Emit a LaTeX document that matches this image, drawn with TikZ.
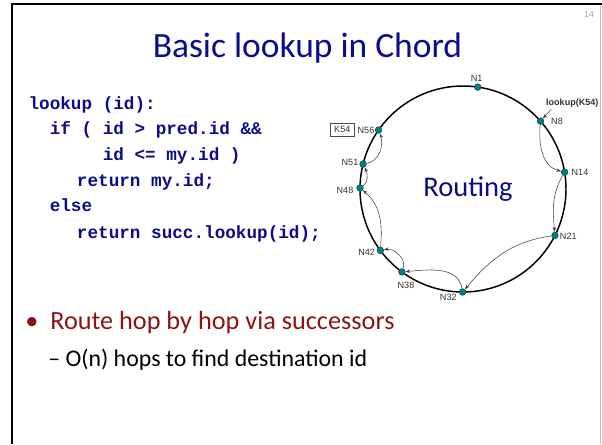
\documentclass[tikz,border=0pt]{standalone}
\usepackage{fontspec}
\setmainfont{Carlito}
\newfontfamily\codefont{Liberation Mono}
\newfontfamily\labelfont{Liberation Sans}
\usetikzlibrary{arrows.meta}

\definecolor{slideblue}{RGB}{12,12,140}
\definecolor{bulletred}{RGB}{142,20,20}
\definecolor{ringteal}{RGB}{0,128,128}

\begin{document}
\begin{tikzpicture}[x=0.75pt,y=-0.75pt,
  codeline/.style={anchor=base west, inner sep=0,
    font=\codefont\bfseries\fontsize{13.25}{15}\selectfont, text=slideblue},
  peer/.style={circle, fill=ringteal, draw=ringteal!65!black, line width=0.4pt,
    inner sep=0, minimum size=5pt},
  peerlabel/.style={inner sep=0, font=\labelfont\fontsize{6.8}{8}\selectfont, text=black!80},
  hop/.style={-{Stealth[length=3.6pt,width=2.6pt]}, line width=0.4pt, draw=black!75},
]
\useasboundingbox (0,0) rectangle (602,444);
\fill[white] (0,0) rectangle (602,444);

% slide frame
\draw[line width=1.8pt] (12,444) -- (12,3.8) -- (602,3.8);
\draw[black!25, line width=0.5pt] (600,4.5) -- (600,444);
\node[inner sep=0, font=\labelfont\fontsize{6.5}{8}\selectfont, text=black!35] (pagenum) at (589,15) {14};

% title
\node[anchor=base, inner sep=0, font=\fontsize{26.6}{32}\selectfont, text=slideblue] (title) at (307.5,57.3) {Basic lookup in Chord};

% pseudo-code
\node[codeline] (c1) at (28.3,109.3) {lookup (id):};
\node[codeline] (c2) at (49.5,134.3) {if ( id > pred.id \&\&};
\node[codeline] (c3) at (102.5,160) {id <= my.id )};
\node[codeline] (c4) at (76.7,186) {return my.id;};
\node[codeline] (c5) at (49.5,211.7) {else};
\node[codeline] (c6) at (76.7,238.3) {return succ.lookup(id);};

% the identifier ring
\draw[line width=1.1pt] (463,189) circle[radius=77.25pt];
\begin{scope}[shift={(463,189)}]
  \node[peer] (n1)  at (81.8:77.25pt) {};
  \node[peer] (n8)  at (41.2:77.25pt) {};
  \node[peer] (n14) at (9.4:77.25pt) {};
  \node[peer] (n21) at (-26.8:77.25pt) {};
  \node[peer] (n32) at (-90.2:77.25pt) {};
  \node[peer] (n38) at (-126.4:77.25pt) {};
  \node[peer] (n42) at (-143.4:77.25pt) {};
  \node[peer] (n48) at (179.4:77.25pt) {};
  \node[peer] (n51) at (166:77.25pt) {};
  \node[peer] (n56) at (145.1:77.25pt) {};
\end{scope}

\node[peerlabel] (l1)  at (476.7,78.3) {N1};
\node[peerlabel] (l8)  at (557,121.7) {N8};
\node[peerlabel] (l14) at (580,172.3) {N14};
\node[peerlabel] (l21) at (568.3,236.7) {N21};
\node[peerlabel] (l32) at (448.3,297.3) {N32};
\node[peerlabel] (l38) at (406,285.3) {N38};
\node[peerlabel] (l42) at (366.7,252.7) {N42};
\node[peerlabel] (l48) at (345,190) {N48};
\node[peerlabel] (l51) at (350,162.7) {N51};
\node[peerlabel] (l56) at (366,130.7) {N56};
\node[peerlabel, draw=black!70, line width=0.4pt, minimum width=17.5pt, minimum height=9.5pt] (k54) at (342.3,129.7) {K54};
\node[peerlabel, font=\labelfont\bfseries\fontsize{6.8}{8}\selectfont] (lk) at (572.3,103.3) {lookup(K54)};

\node[anchor=base, inner sep=0, font=\fontsize{21.4}{26}\selectfont, text=slideblue] (routing) at (468,196.7) {Routing};

% successor hops
\draw[hop] ([xshift=4pt,yshift=-1pt]lk.south west) -- (n8);
\draw[hop] (n8)  to[out=-95,in=165] (n14);
\draw[hop] (n14) to[out=240,in=95]  (n21);
\draw[hop] (n21) to[out=188,in=50]  (n32);
\draw[hop] (n32) to[out=100,in=5]   (n38);
\draw[hop] (n38) to[out=70,in=10]   (n42);
\draw[hop] (n42) to[out=85,in=-40]  (n48);
\draw[hop] (n48) to[out=35,in=-65]  (n51);
\draw[hop] (n51) to[out=10,in=-70]  (n56);

% bullets
\node[anchor=base, inner sep=0, font=\fontsize{19.7}{24}\selectfont, text=bulletred] (dot) at (32,329) {•};
\node[anchor=base west, inner sep=0, font=\fontsize{19.7}{24}\selectfont, text=bulletred] (b1) at (50,329) {Route hop by hop via successors};
\node[anchor=base west, inner sep=0, font=\fontsize{17.9}{22}\selectfont] (b2) at (48,366.7) {– O(n) hops to find destination id};
\end{tikzpicture}
\end{document}
